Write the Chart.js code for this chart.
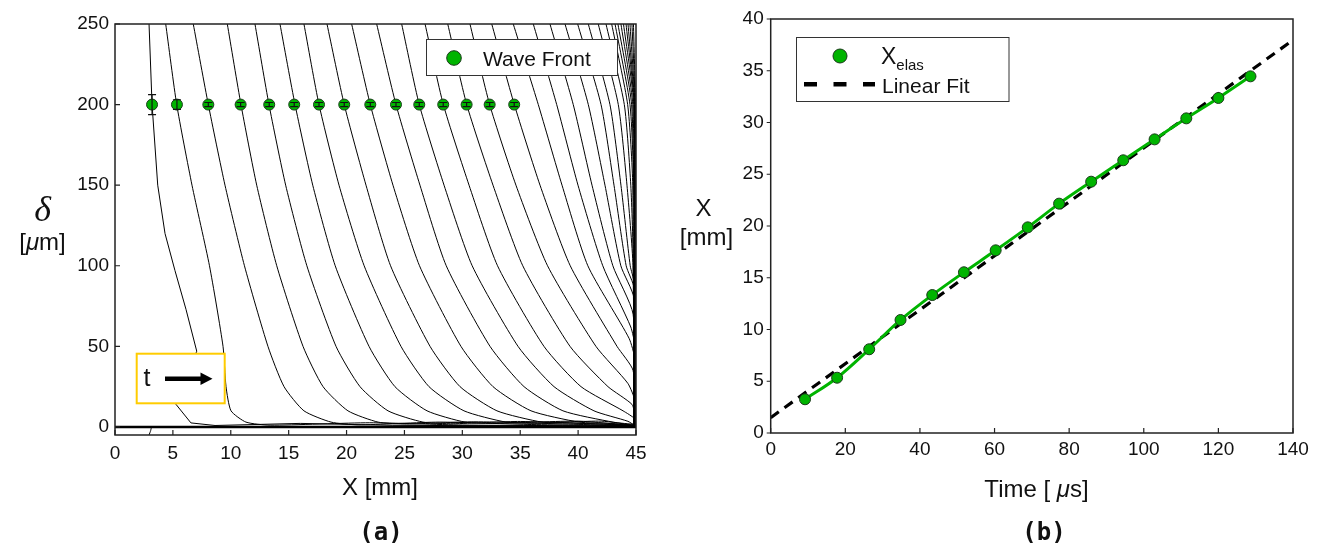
<!DOCTYPE html>
<html><head><meta charset="utf-8">
<script src="https://cdn.jsdelivr.net/npm/chart.js"></script>
<style>
html,body{margin:0;padding:0;background:#fff;}
#wrap{position:relative;width:1325px;height:543px;overflow:hidden;font-family:"Liberation Sans",Arial,sans-serif;color:#111;}
canvas{position:absolute;top:0;}
svg{position:absolute;left:0;top:0;}
.c{position:absolute;white-space:nowrap;transform:translate(-50%,-50%);line-height:1;}
.l{position:absolute;white-space:nowrap;transform:translateY(-50%);line-height:1;}
</style></head>
<body><div id="wrap">
<canvas id="ca" width="660" height="543" style="left:0;width:660px;height:543px"></canvas>
<canvas id="cb" width="665" height="543" style="left:660px;width:665px;height:543px"></canvas>
<svg width="1325" height="543">
  <rect x="426.5" y="39.5" width="191" height="36" fill="#fff" stroke="#333" stroke-width="1"/>
  <circle cx="454" cy="58" r="7.3" fill="#00b400" stroke="#1a3a1a" stroke-width="1"/>
  <rect x="796.5" y="37.5" width="212.5" height="64" fill="#fff" stroke="#333" stroke-width="1"/>
  <circle cx="840" cy="56" r="7" fill="#00b400" stroke="#1a3a1a" stroke-width="1"/>
  <line x1="804" y1="84.3" x2="875" y2="84.3" stroke="#000" stroke-width="4.5" stroke-dasharray="13 16.5"/>
  <rect x="136.7" y="353.7" width="88" height="49.6" fill="#fff" stroke="#ffcc00" stroke-width="2"/>
  <line x1="165" y1="378.7" x2="203" y2="378.7" stroke="#000" stroke-width="4.5"/>
  <polygon points="200.5,372.5 212.5,378.7 200.5,385" fill="#000"/>
</svg>
<div class="l" style="left:483px;top:58px;font-size:21px">Wave Front</div>
<div class="l" style="left:881px;top:56px;font-size:23px">X<span style="font-size:15px;position:relative;top:6px">elas</span></div>
<div class="l" style="left:882px;top:85px;font-size:21px">Linear Fit</div>
<div class="c" style="left:147px;top:377px;font-size:25px">t</div>
<div class="c" style="left:42.5px;top:209px;font-size:36px;font-family:'Liberation Serif',serif;font-style:italic">δ</div>
<div class="c" style="left:42.5px;top:241.5px;font-size:24px">[<i>μ</i>m]</div>
<div class="c" style="left:380px;top:487px;font-size:24px">X [mm]</div>
<div class="c" style="left:381px;top:531.5px;font-size:24px;font-weight:bold;font-family:'DejaVu Sans Mono',monospace">(a)</div>
<div class="c" style="left:703.5px;top:207.5px;font-size:24px">X</div>
<div class="c" style="left:706.5px;top:236.5px;font-size:24px">[mm]</div>
<div class="c" style="left:1036.5px;top:488.5px;font-size:24px">Time [ <i>μ</i>s]</div>
<div class="c" style="left:1044px;top:531.5px;font-size:24px;font-weight:bold;font-family:'DejaVu Sans Mono',monospace">(b)</div>
</div>
<script>
// ---------- Panel (a) data ----------
const xTicksA = [0, 5, 10, 15, 20, 25, 30, 35, 40, 45];
const deltaTicks = [0, 50, 100, 150, 200, 250];
const waveX = [3.20, 5.35, 8.06, 10.85, 13.32, 15.48, 17.62, 19.80, 22.05, 24.27, 26.28, 28.35, 30.37, 32.36, 34.48];
const waveDelta = [200, 200, 200, 200, 200, 200, 200, 200, 200, 200, 200, 200, 200, 200, 200];
const waveErr = [6.2, 3.0, 1.3, 1.3, 1.3, 1.3, 1.3, 1.3, 1.3, 1.3, 1.3, 1.3, 1.3, 1.3, 1.3];
const baseline = [[0, 0], [45, 0]];
// deflection profiles delta(X) at successive times: [X mm, delta um]
const profiles = [
  [[2.94,-5],[3.08,-2.3],[3.15,0]],
  [[2.94,250],[3.20,200],[3.69,150],[4.32,120],[5.18,97],[6.13,73],[7.06,47],[5.27,14],[6.56,2.5],[8.64,0.9],[16,2.2],[24,1.0],[45,0.4]],
  [[4.38,250],[5.33,200],[6.65,150],[8.16,100],[9.33,50],[9.59,25],[10.02,10],[11.31,3],[13.4,1.1],[22,2.6],[30,1.2],[45,0.6]],
  [[6.76,250],[8.06,200],[9.50,150],[11.18,100],[13.21,50],[14.60,25],[16.32,10],[18.66,3],[21,1.3],[28,3.0],[36,1.5],[45,0.8]],
  [[9.70,250],[10.88,200],[12.24,150],[13.97,100],[16.24,50],[17.97,25],[20.12,10],[22.72,3],[25.2,1.8],[31,3.2],[40,1.6],[45,0.5]],
  [[12.09,250],[13.30,200],[14.74,150],[16.57,100],[19.09,50],[21.16,25],[23.58,10],[26.60,3],[29.2,2.0],[35,3.4],[45,0.9]],
  [[14.25,250],[15.55,200],[17.08,150],[19.02,100],[21.94,50],[24.18,25],[26.95,10],[30.23,3],[33,2.2],[40,3.6],[45,0.6]],
  [[16.32,250],[17.62,200],[19.35,150],[21.52,100],[24.70,50],[27.12,25],[30.14,10],[33.77,3],[36.5,2.3],[42,3.6],[45,0.8]],
  [[18.31,250],[19.80,200],[21.68,150],[23.80,100],[27.21,50],[29.80,25],[32.99,10],[36.88,3],[39.6,2.4],[45,1.0]],
  [[20.44,250],[22.05,200],[24.01,150],[26.30,100],[29.88,50],[32.65,25],[35.93,10],[40.08,3],[42.8,2.2],[45,1.0]],
  [[22.60,250],[24.27,200],[26.34,150],[28.61,100],[32.39,50],[35.33,25],[38.69,10],[43.01,3],[45,1.5]],
  [[24.76,250],[26.28,200],[28.42,150],[30.85,100],[34.81,50],[37.92,25],[41.37,10],[44.3,3.5],[44.97,0.5]],
  [[26.78,250],[28.36,200],[30.58,150],[33.04,100],[37.05,50],[40.25,25],[43.88,10],[44.9,5],[44.97,0]],
  [[28.74,250],[30.38,200],[32.65,150],[35.22,100],[39.30,50],[42.58,25],[44.65,14],[44.95,6],[44.96,0]],
  [[30.66,250],[32.36,200],[34.63,150],[37.36,100],[41.54,50],[44.3,27],[44.92,16],[44.95,0]],
  [[32.54,250],[34.49,200],[36.71,150],[39.32,100],[43.36,50],[44.75,35],[44.94,0]],
  [[34.40,250],[36.56,200],[38.61,150],[40.84,100],[44.4,55],[44.9,42],[44.93,0]],
  [[36.13,250],[38.15,200],[39.99,150],[42.13,100],[44.55,62],[44.9,50],[44.92,0]],
  [[37.57,250],[39.58,200],[41.20,150],[43.00,100],[44.75,70],[44.9,0]],
  [[38.87,250],[40.88,200],[42.32,150],[43.69,100],[44.82,80],[44.88,0]],
  [[39.96,250],[41.98,200],[43.10,150],[44.15,100],[44.84,86],[44.86,0]],
  [[40.88,250],[42.75,200],[43.70,150],[44.50,100],[44.82,90],[44.84,0]],
  [[41.74,250],[43.47,200],[44.22,150],[44.74,100],[44.82,0]],
  [[42.41,250],[43.99,200],[44.55,150],[44.78,100],[44.8,0]],
  [[42.90,250],[44.28,200],[44.72,150],[44.8,0]],
  [[43.19,250],[44.48,200],[44.8,150],[44.84,0]],
  [[43.44,250],[44.62,200],[44.85,120],[44.87,0]],
  [[43.70,250],[44.72,200],[44.88,100],[44.9,0]],
  [[43.92,250],[44.8,200],[44.92,0]],
  [[44.14,250],[44.84,200],[44.93,0]],
  [[44.31,250],[44.87,200],[44.94,0]],
  [[44.48,250],[44.9,200],[44.95,0]],
  [[44.65,250],[44.93,200],[44.96,0]],
  [[44.78,250],[44.95,200],[44.97,0]]
];
// ---------- Panel (b) data ----------
const xTicksB = [0, 20, 40, 60, 80, 100, 120, 140];
const yTicksB = [0, 5, 10, 15, 20, 25, 30, 35, 40];
const timeUs = [9.2, 17.8, 26.4, 34.8, 43.3, 51.8, 60.3, 68.9, 77.3, 85.9, 94.5, 102.9, 111.4, 120.0, 128.6];
const xElas = [3.26, 5.34, 8.09, 10.92, 13.33, 15.53, 17.65, 19.87, 22.16, 24.28, 26.35, 28.37, 30.40, 32.37, 34.46];
const fitTime = [0, 140];
const fitX = [1.48, 37.97];

const FONT = {family: "'Liberation Sans', Arial, sans-serif", size: 19};
const GREEN = '#00b400';

function ticksFrom(arr){ return s => { s.ticks = arr.map(v => ({value: v})); }; }

const frameA = {
  id: 'frameA',
  afterDatasetsDraw(chart){
    const {ctx, chartArea: a, scales: {x, y}} = chart;
    ctx.save();
    ctx.strokeStyle = '#111'; ctx.lineWidth = 1.2;
    ctx.beginPath();
    waveX.forEach((wx, i) => {
      const px = x.getPixelForValue(wx);
      const y1 = y.getPixelForValue(waveDelta[i] + waveErr[i]);
      const y2 = y.getPixelForValue(waveDelta[i] - waveErr[i]);
      ctx.moveTo(px, y1); ctx.lineTo(px, y2);
      ctx.moveTo(px - 4, y1); ctx.lineTo(px + 4, y1);
      ctx.moveTo(px - 4, y2); ctx.lineTo(px + 4, y2);
    });
    ctx.stroke();
    ctx.strokeStyle = '#222'; ctx.lineWidth = 1.5;
    ctx.strokeRect(a.left, a.top, a.right - a.left, a.bottom - a.top);
    ctx.lineWidth = 1.2; ctx.beginPath();
    xTicksA.forEach(v => { const p = x.getPixelForValue(v); ctx.moveTo(p, a.bottom); ctx.lineTo(p, a.bottom - 5); });
    deltaTicks.forEach(v => { const p = y.getPixelForValue(v); ctx.moveTo(a.left, p); ctx.lineTo(a.left + 5, p); });
    ctx.stroke();
    ctx.restore();
  }
};

const frameB = {
  id: 'frameB',
  afterDatasetsDraw(chart){
    const {ctx, chartArea: a, scales: {x, y}} = chart;
    ctx.save();
    ctx.strokeStyle = '#222'; ctx.lineWidth = 1.5;
    ctx.strokeRect(a.left, a.top, a.right - a.left, a.bottom - a.top);
    ctx.lineWidth = 1.2; ctx.beginPath();
    xTicksB.forEach(v => { const p = x.getPixelForValue(v); ctx.moveTo(p, a.bottom); ctx.lineTo(p, a.bottom - 5); });
    yTicksB.forEach(v => { const p = y.getPixelForValue(v); ctx.moveTo(a.left, p); ctx.lineTo(a.left - 4, p); });
    ctx.stroke();
    ctx.restore();
  }
};

const dsA = [];
dsA.push({data: baseline.map(([x, y]) => ({x, y})), showLine: true, borderColor: '#000', borderWidth: 2.5, pointRadius: 0, order: 5});
profiles.forEach((p, i) => dsA.push({
  data: p.map(([x, y]) => ({x, y})), showLine: true, borderColor: '#000', borderWidth: 1,
  pointRadius: 0, tension: i === 1 ? 0 : 0.2, order: 5
}));
dsA.push({
  data: waveX.map((x, i) => ({x, y: waveDelta[i]})), showLine: false,
  pointRadius: 5.5, pointBackgroundColor: GREEN, pointBorderColor: '#1a3a1a', pointBorderWidth: 1, order: 0
});

new Chart(document.getElementById('ca'), {
  type: 'scatter',
  data: {datasets: dsA},
  options: {
    responsive: false, animation: false, events: [],
    layout: {padding: {left: 0, top: 24, right: 24, bottom: 0}},
    plugins: {legend: {display: false}, tooltip: {enabled: false}},
    scales: {
      x: {type: 'linear', min: 0, max: 45, afterBuildTicks: ticksFrom(xTicksA),
          ticks: {font: FONT, color: '#111', padding: 7, maxRotation: 0, autoSkip: false},
          grid: {display: false, drawTicks: false}, border: {display: false},
          afterFit(s){ s.height = 108; }},
      y: {type: 'linear', min: -5, max: 250, afterBuildTicks: ticksFrom(deltaTicks),
          ticks: {font: FONT, color: '#111', padding: 6, autoSkip: false},
          grid: {display: false, drawTicks: false}, border: {display: false},
          afterFit(s){ s.width = 115; }}
    }
  },
  plugins: [frameA]
});

new Chart(document.getElementById('cb'), {
  type: 'scatter',
  data: {datasets: [
    {data: timeUs.map((x, i) => ({x, y: xElas[i]})), showLine: true, borderColor: GREEN, borderWidth: 3,
     cubicInterpolationMode: 'monotone', pointRadius: 5.5, pointBackgroundColor: GREEN,
     pointBorderColor: '#1a3a1a', pointBorderWidth: 1, order: 0},
    {data: fitTime.map((x, i) => ({x, y: fitX[i]})), showLine: true, borderColor: '#000', borderWidth: 3.2,
     borderDash: [10, 7], pointRadius: 0, order: 1}
  ]},
  options: {
    responsive: false, animation: false, events: [],
    layout: {padding: {left: 0, top: 19, right: 32, bottom: 0}},
    plugins: {legend: {display: false}, tooltip: {enabled: false}},
    scales: {
      x: {type: 'linear', min: 0, max: 140, afterBuildTicks: ticksFrom(xTicksB),
          ticks: {font: FONT, color: '#111', padding: 5, maxRotation: 0, autoSkip: false},
          grid: {display: false, drawTicks: false}, border: {display: false},
          afterFit(s){ s.height = 110; }},
      y: {type: 'linear', min: 0, max: 40, afterBuildTicks: ticksFrom(yTicksB),
          ticks: {font: FONT, color: '#111', padding: 7, autoSkip: false},
          grid: {display: false, drawTicks: false}, border: {display: false},
          afterFit(s){ s.width = 110.7; }}
    }
  },
  plugins: [frameB]
});
</script>
</body></html>
